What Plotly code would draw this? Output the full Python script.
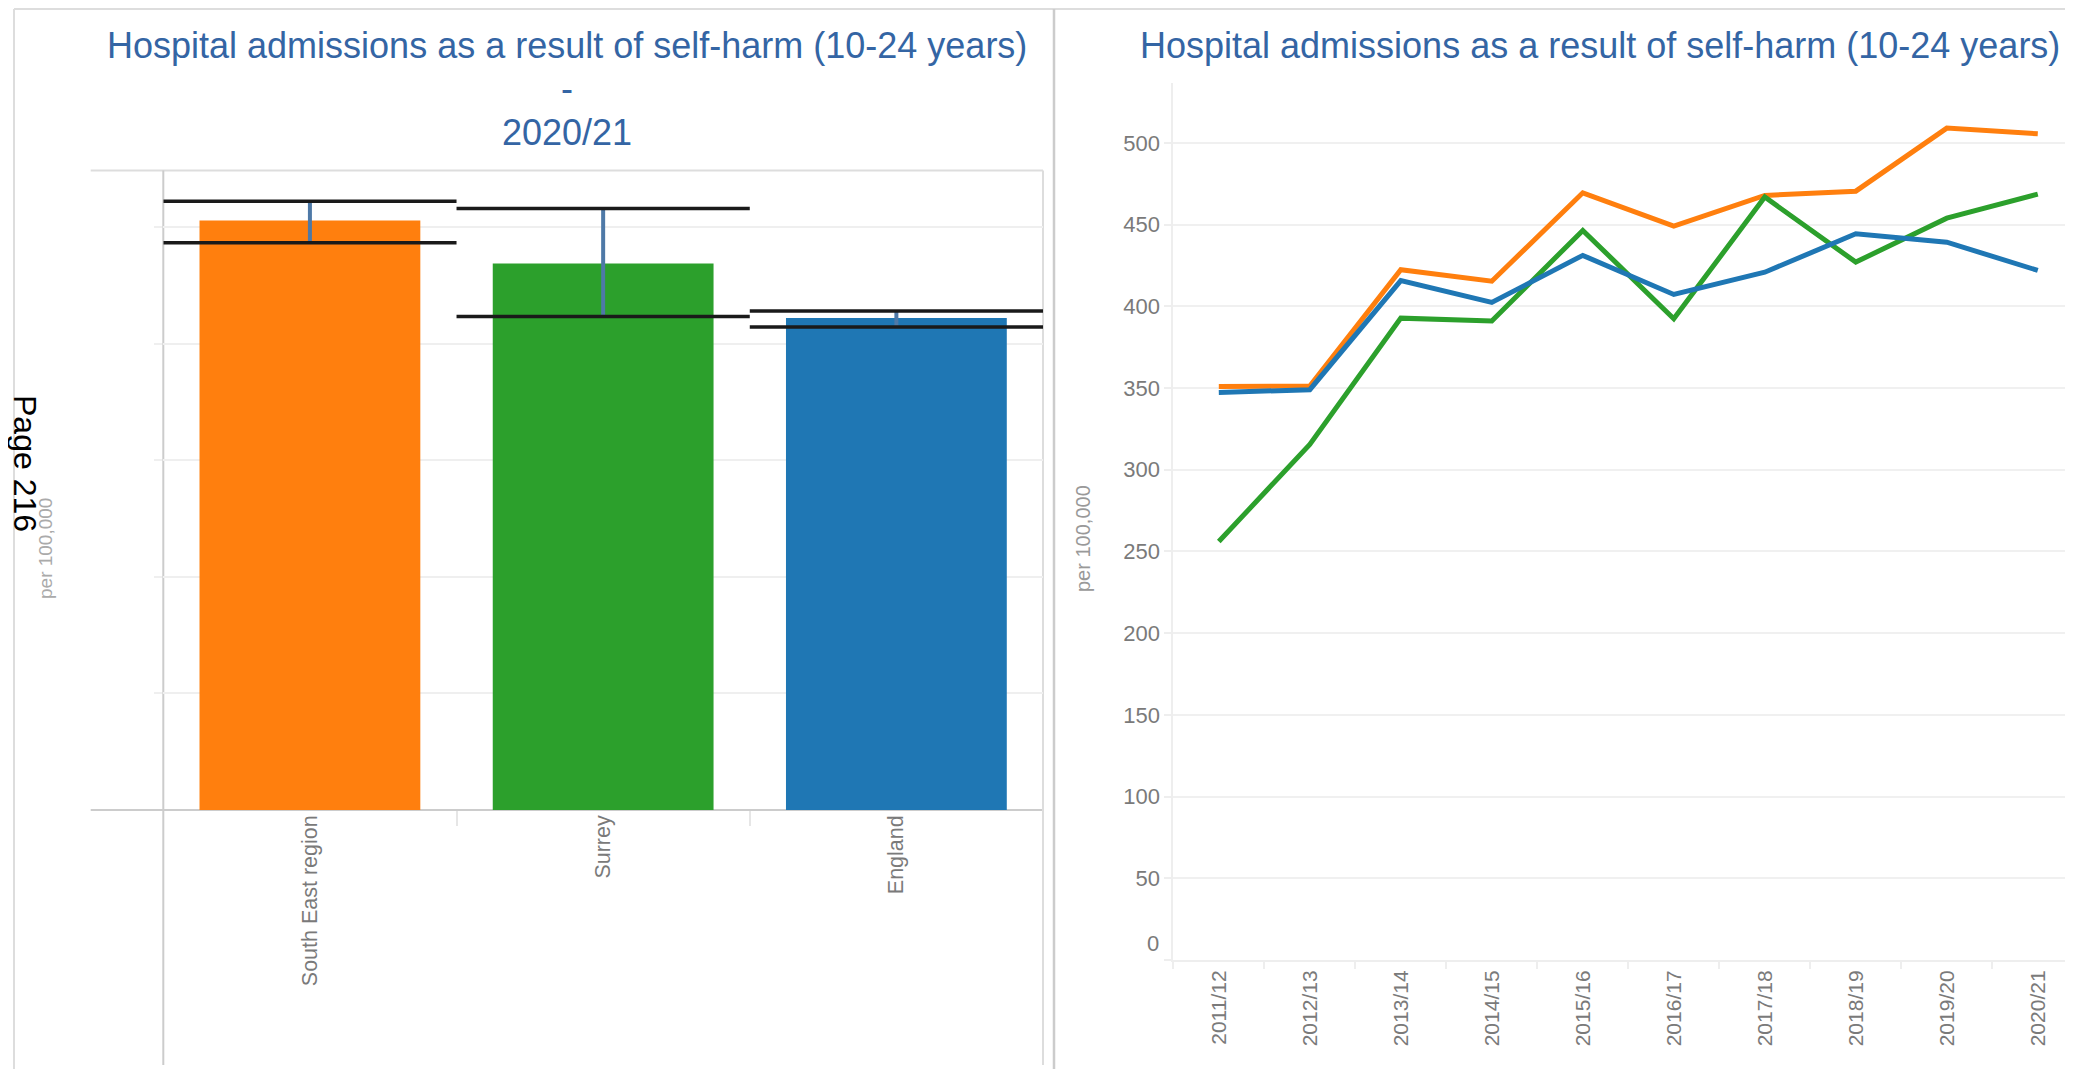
import plotly.graph_objects as go

# page is 2073x1069; the html body has an 8px margin, so the figure is sized to fit inside it
PAGE_W, PAGE_H = 2073, 1069
OFF = 8
W, H = PAGE_W - OFF, PAGE_H - OFF

# ---------------- data ----------------
areas = ["South East region", "Surrey", "England"]
area_colors = ["#ff7f0e", "#2ca02c", "#1f77b4"]
bar_values = [505.6, 468.7, 422.0]
ci_upper = [522.1, 515.9, 427.9]
ci_lower = [486.5, 423.3, 414.1]

years = ["2011/12", "2012/13", "2013/14", "2014/15", "2015/16",
         "2016/17", "2017/18", "2018/19", "2019/20", "2020/21"]
south_east = [351.0, 351.2, 422.4, 415.4, 469.5, 449.1, 467.9, 470.5, 509.1, 505.6]
surrey = [256.1, 315.5, 392.8, 391.0, 446.5, 392.4, 466.9, 427.1, 454.0, 468.7]
england = [347.3, 349.0, 415.8, 402.4, 431.2, 407.3, 420.9, 444.4, 439.3, 422.0]

title_text = "Hospital admissions as a result of self-harm (10-24 years)"
period = "2020/21"
y_title = "per 100,000"
y_ticks_right = [0, 50, 100, 150, 200, 250, 300, 350, 400, 450, 500]
y_ticks_left = [100, 200, 300, 400, 500]

FONT = "Liberation Sans, Arial, sans-serif"
TITLE_COLOR = "#3465a4"
TICK_COLOR = "#7a7a7a"


def X(px):
    return (px - OFF) / W


def Y(py):
    return 1 - (py - OFF) / H


fig = go.Figure()

# ---------------- left: bar chart with confidence intervals ----------------
xi = list(range(len(areas)))
fig.add_trace(go.Bar(
    x=xi, y=bar_values, marker=dict(color=area_colors, line=dict(width=0)),
    width=0.753,
    error_y=dict(type="data", symmetric=False,
                 array=[u - v for u, v in zip(ci_upper, bar_values)],
                 arrayminus=[v - l for l, v in zip(ci_lower, bar_values)],
                 color="#4e79a7", thickness=4, width=0),
    xaxis="x", yaxis="y", showlegend=False, hoverinfo="skip"))

cap_x, cap_y = [], []
for i, (u, l) in enumerate(zip(ci_upper, ci_lower)):
    cap_x += [i - 0.5, i + 0.5, None, i - 0.5, i + 0.5, None]
    cap_y += [u, u, None, l, l, None]
fig.add_trace(go.Scatter(
    x=cap_x, y=cap_y, mode="lines", line=dict(color="#1a1a1a", width=3.5),
    xaxis="x", yaxis="y", showlegend=False, hoverinfo="skip", cliponaxis=False))

# ---------------- right: trend lines ----------------
for vals, col, name in [(south_east, area_colors[0], areas[0]),
                        (surrey, area_colors[1], areas[1]),
                        (england, area_colors[2], areas[2])]:
    fig.add_trace(go.Scatter(
        x=years, y=vals, mode="lines", name=name,
        line=dict(color=col, width=5),
        xaxis="x2", yaxis="y2", showlegend=False))

# ---------------- axes ----------------
fig.update_layout(
    width=W, height=H,
    margin=dict(l=0, r=0, t=0, b=0),
    paper_bgcolor="white", plot_bgcolor="white",
    font=dict(family=FONT, color=TICK_COLOR),
    xaxis=dict(
        domain=[X(163.3), X(1043)], range=[-0.5, 2.5],
        tickmode="array", tickvals=xi, ticktext=areas,
        ticks="", tickangle=-90, tickfont=dict(size=21.5, color=TICK_COLOR),
        showgrid=False, zeroline=False, showline=False,
        minor=dict(tickmode="array", tickvals=[0.5, 1.5], ticks="outside",
                   ticklen=15, tickcolor="#e6e6e6", tickwidth=1.5, showgrid=False),
    ),
    yaxis=dict(
        domain=[Y(810), Y(170.5)], range=[0, 548.4],
        tickmode="array", tickvals=y_ticks_left, showticklabels=False,
        ticks="outside", ticklen=8, tickcolor="#efefef", tickwidth=2,
        gridcolor="#efefef", gridwidth=2, zeroline=False, showline=False,
    ),
    xaxis2=dict(
        domain=[X(1173.3), 1.0], type="category",
        categoryorder="array", categoryarray=years,
        range=[-0.5, 9.387], tickson="boundaries",
        ticks="outside", ticklen=7, tickcolor="#eeeeee", tickwidth=1.5,
        tickangle=-90, tickfont=dict(size=21, color=TICK_COLOR),
        showgrid=False, zeroline=False,
        showline=True, linecolor="#eeeeee", linewidth=2,
        anchor="y2",
    ),
    yaxis2=dict(
        domain=[Y(960), Y(83)], range=[0, 536.7],
        tickmode="array", tickvals=y_ticks_right,
        ticktext=["" if v == 0 else str(v) for v in y_ticks_right],
        ticks="outside", ticklen=7, tickcolor="#eeeeee", tickwidth=1.5,
        tickfont=dict(size=22, color=TICK_COLOR),
        gridcolor="#f0f0f0", gridwidth=2, zeroline=False,
        showline=True, linecolor="#eeeeee", linewidth=2,
        anchor="x2",
    ),
)

# ---------------- frames / borders ----------------
def hline(x0, x1, y, color, w=2):
    fig.add_shape(type="line", xref="paper", yref="paper",
                  x0=X(x0), x1=X(x1), y0=Y(y), y1=Y(y),
                  line=dict(color=color, width=w), layer="below")


def vline(x, y0, y1, color, w=2):
    fig.add_shape(type="line", xref="paper", yref="paper",
                  x0=X(x), x1=X(x), y0=Y(y0), y1=Y(y1),
                  line=dict(color=color, width=w), layer="below")


hline(14, PAGE_W, 9, "#dddddd")
vline(14, 9, PAGE_H, "#dddddd")
vline(1054, 9, PAGE_H, "#cccccc", 2.5)
hline(90.7, 1043, 170.5, "#dddddd")
hline(90.7, 1043, 810, "#cccccc")
vline(163.3, 170.5, 1065, "#cccccc")
vline(1043, 170.5, 1065, "#dddddd")

# ---------------- texts ----------------
ann = []
for txt, yy in [(title_text, 45), ("-", 88.5), (period, 132)]:
    ann.append(dict(text=txt, x=X(566.5), y=Y(yy), xref="paper", yref="paper",
                    xanchor="center", yanchor="middle", showarrow=False,
                    font=dict(family=FONT, size=36, color=TITLE_COLOR)))
ann.append(dict(text=title_text, x=X(1599.5), y=Y(45), xref="paper", yref="paper",
                xanchor="center", yanchor="middle", showarrow=False,
                font=dict(family=FONT, size=36, color=TITLE_COLOR)))
ann.append(dict(text=y_title, x=X(45), y=Y(549), xref="paper", yref="paper",
                xanchor="center", yanchor="middle", showarrow=False, textangle=-90,
                font=dict(family=FONT, size=19, color="#aaaaaa")))
ann.append(dict(text=y_title, x=X(1083), y=Y(539), xref="paper", yref="paper",
                xanchor="center", yanchor="middle", showarrow=False, textangle=-90,
                font=dict(family=FONT, size=20, color="#999999")))
ann.append(dict(text="0", x=X(1161), y=0, xref="paper", yref="y2",
                xanchor="right", yanchor="middle", yshift=17, showarrow=False,
                font=dict(family=FONT, size=22, color=TICK_COLOR)))
ann.append(dict(text="Page 216", x=X(25), y=Y(463), xref="paper", yref="paper",
                xanchor="center", yanchor="middle", showarrow=False, textangle=90,
                font=dict(family=FONT, size=32, color="black")))
fig.update_layout(annotations=ann)

fig.write_html("out.html")
